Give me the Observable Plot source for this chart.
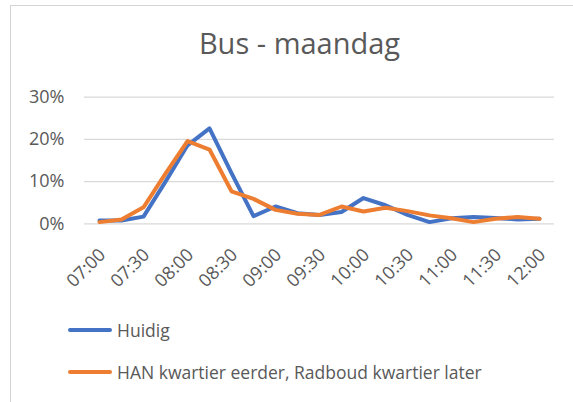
<!DOCTYPE html>
<html><head><meta charset="utf-8">
<script src="https://cdn.jsdelivr.net/npm/d3@7"></script>
<script src="https://cdn.jsdelivr.net/npm/@observablehq/plot@0.6"></script>
<style>
html,body{margin:0;padding:0;background:#fff;}
#wrap{position:relative;width:573px;height:402px;overflow:hidden;font-family:"Open Sans",Lato,sans-serif;color:#595959;}
#frame{position:absolute;left:10px;top:5px;width:700px;height:500px;border-left:1px solid #d4d4d4;border-top:1px solid #d4d4d4;box-sizing:border-box;}
#title{position:absolute;left:0;width:599px;top:27.8px;text-align:center;font-size:29px;line-height:29px;}
#chart{position:absolute;left:0;top:0;}
.leg{position:absolute;left:68px;display:flex;align-items:center;font-size:17.5px;line-height:20px;height:20px;}
.sw{width:44px;height:4px;border-radius:2px;margin-right:5px;}
</style>
</head><body>
<div id="wrap">
  <div id="frame"></div>
  <div id="chart"></div>
  <div id="title"></div>
  <div class="leg" id="leg1" style="top:320px"><div class="sw" style="background:#4472C4"></div><span></span></div>
  <div class="leg" id="leg2" style="top:362px"><div class="sw" style="background:#ED7D31"></div><span></span></div>
</div>
<script>
const chartTitle = "Bus - maandag";
const seriesNames = ["Huidig", "HAN kwartier eerder, Radboud kwartier later"];
const times = ["07:00","07:15","07:30","07:45","08:00","08:15","08:30","08:45","09:00","09:15","09:30","09:45","10:00","10:15","10:30","10:45","11:00","11:15","11:30","11:45","12:00"];
const huidig = [0.008,0.008,0.017,0.100,0.186,0.226,0.120,0.018,0.041,0.025,0.021,0.028,0.061,0.044,0.021,0.004,0.013,0.016,0.014,0.010,0.012];
const han = [0.004,0.010,0.039,0.119,0.196,0.176,0.077,0.059,0.033,0.024,0.021,0.041,0.029,0.038,0.030,0.020,0.013,0.004,0.012,0.016,0.012];
const yTicks = [0, 0.1, 0.2, 0.3];
const xTickLabels = ["07:00","07:30","08:00","08:30","09:00","09:30","10:00","10:30","11:00","11:30","12:00"];
const colors = ["#4472C4", "#ED7D31"];

const rows = [];
times.forEach((t, i) => {
  rows.push({time: t, value: huidig[i], series: seriesNames[0]});
});
times.forEach((t, i) => {
  rows.push({time: t, value: han[i], series: seriesNames[1]});
});

const H = 300;
const chart = Plot.plot({
  width: 573,
  height: H,
  marginLeft: 84,
  marginRight: 19,
  marginTop: 96.7,
  marginBottom: H - 223.3,
  style: {background: "transparent", fontFamily: "'Open Sans', Lato, sans-serif", overflow: "visible"},
  x: {type: "point", domain: times, padding: 0.5, axis: null},
  y: {domain: [0, 0.3], axis: null},
  color: {domain: seriesNames, range: colors},
  marks: [
    Plot.ruleY(yTicks, {stroke: "#d9d9d9", strokeWidth: 1.3}),
    Plot.text(yTicks, {y: d => d, frameAnchor: "left", dx: -20, textAnchor: "end", text: d3.format(".0%"), fontSize: 18, fill: "#595959"}),
    Plot.text(xTickLabels, {x: d => d, frameAnchor: "bottom", dx: 3, dy: 28, rotate: -45, textAnchor: "end", lineAnchor: "middle", fontSize: 18, fill: "#595959"}),
    Plot.line(rows, {x: "time", y: "value", z: "series", stroke: "series", strokeWidth: 4, strokeLinejoin: "round", strokeLinecap: "round"})
  ]
});
document.getElementById("chart").appendChild(chart);
document.getElementById("title").textContent = chartTitle;
document.querySelector("#leg1 span").textContent = seriesNames[0];
document.querySelector("#leg2 span").textContent = seriesNames[1];
</script>
</body></html>
